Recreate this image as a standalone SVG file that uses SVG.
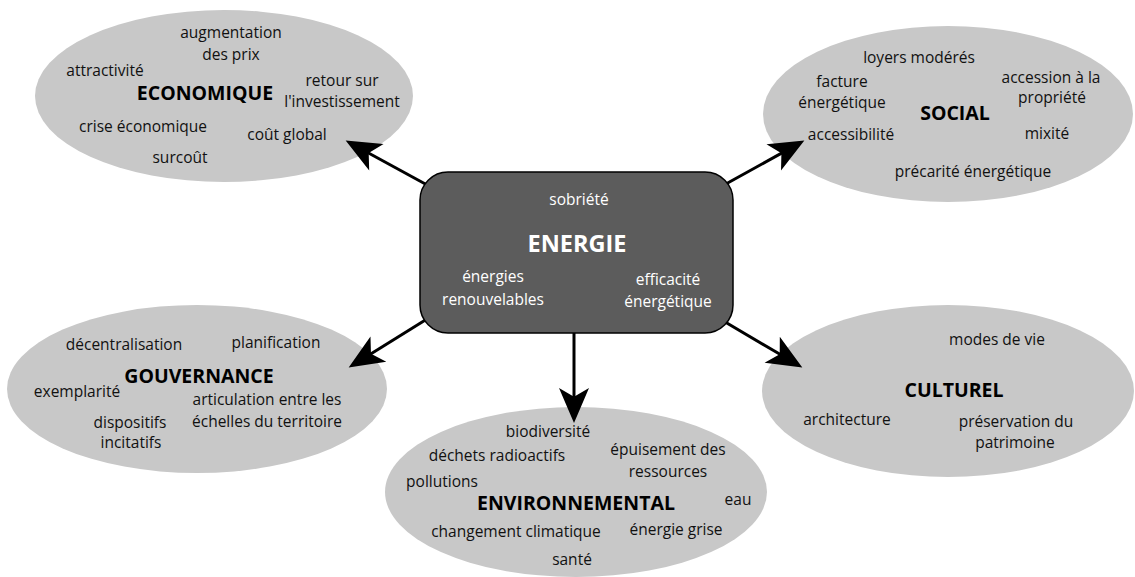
<svg xmlns="http://www.w3.org/2000/svg" width="1135" height="577" viewBox="0 0 1135 577">
<style>
.ell{fill:#c8c8c8;stroke:none}
.t{font-family:"Open Sans","Liberation Sans",sans-serif;font-size:15.5px;fill:#111;text-anchor:middle}
.h{font-family:"Open Sans","Liberation Sans",sans-serif;font-size:19.5px;font-weight:bold;fill:#000;text-anchor:middle}
.w{fill:#fff}
.con{stroke:#000;stroke-width:3;fill:none;marker-end:url(#arr)}
</style>
<defs>
<marker id="arr" markerUnits="userSpaceOnUse" markerWidth="40" markerHeight="40" viewBox="-10 -15 32 30" refX="0" refY="0" orient="auto">
<path d="M20,0 L-8,-12 L-1,0 L-8,12 Z" fill="#000"/>
</marker>
</defs>
<rect width="1135" height="577" fill="#fff"/>

<g id="economique">
<ellipse class="ell" cx="224" cy="96" rx="189" ry="86"/>
<text class="t" x="231" y="38">augmentation</text>
<text class="t" x="231" y="60">des prix</text>
<text class="t" x="105" y="76">attractivité</text>
<text class="h" x="205" y="100">ECONOMIQUE</text>
<text class="t" x="342" y="86">retour sur</text>
<text class="t" x="342" y="107">l'investissement</text>
<text class="t" x="143" y="132">crise économique</text>
<text class="t" x="287" y="140">coût global</text>
<text class="t" x="180" y="163">surcoût</text>
</g>

<g id="social">
<ellipse class="ell" cx="948" cy="114" rx="185" ry="88"/>
<text class="t" x="919" y="63">loyers modérés</text>
<text class="t" x="842" y="87">facture</text>
<text class="t" x="842" y="108">énergétique</text>
<text class="t" x="1051" y="83">accession à la</text>
<text class="t" x="1052" y="103">propriété</text>
<text class="h" x="955" y="120">SOCIAL</text>
<text class="t" x="851" y="140">accessibilité</text>
<text class="t" x="1047" y="139">mixité</text>
<text class="t" x="973" y="177">précarité énergétique</text>
</g>

<g id="gouvernance">
<ellipse class="ell" cx="197" cy="389" rx="190" ry="84"/>
<text class="t" x="124" y="350">décentralisation</text>
<text class="t" x="276" y="348">planification</text>
<text class="h" x="199" y="383">GOUVERNANCE</text>
<text class="t" x="77" y="397">exemplarité</text>
<text class="t" x="267" y="405">articulation entre les</text>
<text class="t" x="267" y="427">échelles du territoire</text>
<text class="t" x="130" y="428">dispositifs</text>
<text class="t" x="131" y="448">incitatifs</text>
</g>

<g id="environnemental">
<ellipse class="ell" cx="576" cy="492" rx="191" ry="85"/>
<text class="t" x="548" y="437">biodiversité</text>
<text class="t" x="497" y="461">déchets radioactifs</text>
<text class="t" x="668" y="455">épuisement des</text>
<text class="t" x="668" y="477">ressources</text>
<text class="t" x="442" y="487">pollutions</text>
<text class="h" x="576" y="510">ENVIRONNEMENTAL</text>
<text class="t" x="738" y="505">eau</text>
<text class="t" x="516" y="537">changement climatique</text>
<text class="t" x="676" y="535">énergie grise</text>
<text class="t" x="572" y="565">santé</text>
</g>

<g id="culturel">
<ellipse class="ell" cx="948" cy="391" rx="186" ry="86"/>
<text class="t" x="997" y="345">modes de vie</text>
<text class="h" x="954" y="397">CULTUREL</text>
<text class="t" x="847" y="425">architecture</text>
<text class="t" x="1016" y="427">préservation du</text>
<text class="t" x="1015" y="448">patrimoine</text>
</g>

<g id="connectors">
<line class="con" x1="440" y1="192" x2="367.6" y2="152.5"/>
<line class="con" x1="715" y1="190" x2="782.5" y2="152.6"/>
<line class="con" x1="435" y1="314" x2="369.9" y2="354.4"/>
<line class="con" x1="574" y1="320" x2="574" y2="398"/>
<line class="con" x1="715" y1="316" x2="780.8" y2="354.8"/>
</g>

<g id="energie">
<rect x="420" y="172" width="313" height="161" rx="28" ry="28" fill="#5c5c5c" stroke="#000" stroke-width="1.5"/>
<text class="t w" x="579" y="205">sobriété</text>
<text class="h w" x="577" y="252" style="font-size:23.5px">ENERGIE</text>
<text class="t w" x="493" y="282">énergies</text>
<text class="t w" x="493" y="305">renouvelables</text>
<text class="t w" x="668" y="285">efficacité</text>
<text class="t w" x="668" y="307">énergétique</text>
</g>
</svg>
